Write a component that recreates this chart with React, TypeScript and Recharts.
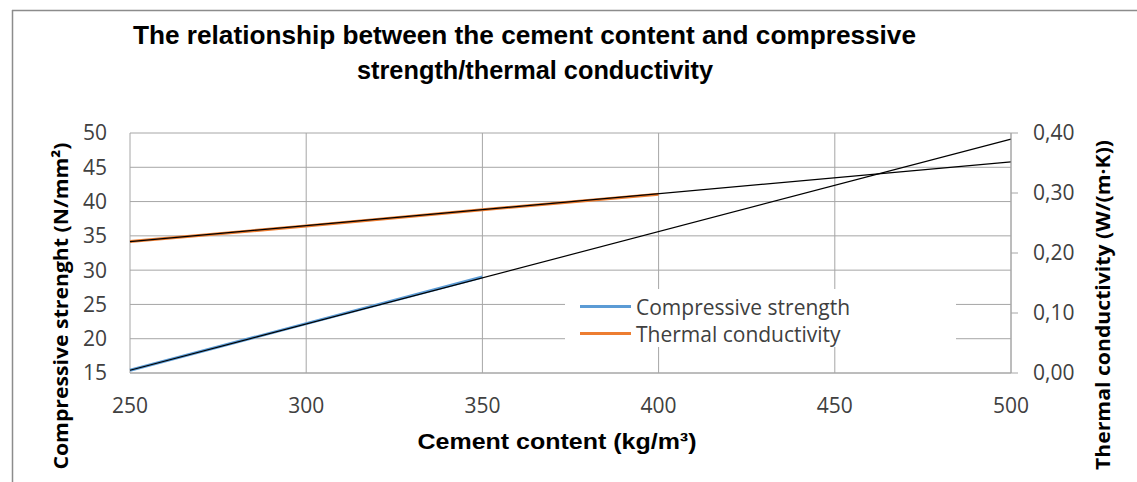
import React from "react";
import {
  LineChart,
  Line,
  XAxis,
  YAxis,
  CartesianGrid,
  Legend,
} from "recharts";

// cement content (kg/m3)
const cementContent = [250, 300, 350, 400, 450, 500];
// measured series
const compressiveStrength = [15.4, 22.2, 29.0, null, null, null];
const thermalConductivity = [0.219, 0.245, 0.272, 0.298, null, null];
// linear trend lines (endpoints)
const strengthTrend = [15.4, null, null, null, null, 49.1];
const thermalTrend = [0.219, null, null, null, null, 0.352];

const leftTicks = [15, 20, 25, 30, 35, 40, 45, 50];
const rightTicks = [0, 0.1, 0.2, 0.3, 0.4];

const legendItems = [
  { key: "strength", name: "Compressive strength", color: "#5b9bd5" },
  { key: "thermal", name: "Thermal conductivity", color: "#ed7d31" },
];

const data = cementContent.map((x, i) => ({
  x,
  strength: compressiveStrength[i],
  thermal: thermalConductivity[i],
  strengthTrend: strengthTrend[i],
  thermalTrend: thermalTrend[i],
}));

const W = 1137;
const H = 482;
const TICK_FONT = "'Open Sans', 'DejaVu Sans', sans-serif";
const TITLE_FONT = "'Liberation Sans Narrow', 'Liberation Sans', sans-serif";
const GRID = "#a6a6a6";

const renderLegend = () => (
  <div
    style={{
      background: "#fff",
      width: 391,
      height: 58,
      paddingTop: 4,
      boxSizing: "border-box",
    }}
  >
    {legendItems.map((it) => (
      <div
        key={it.key}
        style={{
          display: "flex",
          alignItems: "center",
          height: 27,
          fontFamily: TICK_FONT,
          fontSize: 21,
          color: "#404040",
        }}
      >
        <span
          style={{
            display: "inline-block",
            width: 51,
            height: 3,
            background: it.color,
            marginLeft: 15,
            marginRight: 5,
          }}
        />
        {it.name}
      </div>
    ))}
  </div>
);

export default function App() {
  return (
    <div style={{ position: "absolute", left: 0, top: 0, width: W, height: H, background: "#fff" }}>
      <LineChart
        width={W}
        height={H}
        data={data}
        margin={{ top: 133, right: 0, bottom: 0, left: 0 }}
      >
        <CartesianGrid stroke={GRID} strokeWidth={1} yAxisId="left" />
        <XAxis
          dataKey="x"
          type="number"
          domain={[250, 500]}
          ticks={cementContent}
          interval={0}
          stroke={GRID}
          tickLine={false}
          tickSize={0}
          tickMargin={25}
          height={109}
          tick={{ fontSize: 21, fill: "#404040", fontFamily: TICK_FONT }}
          label={{
            content: () => (
              <text
                x={557}
                y={449}
                textAnchor="middle"
                fontFamily={TITLE_FONT}
                fontSize={22}
                fontWeight={700}
                fill="#000"
                textLength={279}
                lengthAdjust="spacingAndGlyphs"
              >
                Cement content (kg/m³)
              </text>
            ),
          }}
        />
        <YAxis
          yAxisId="left"
          domain={[15, 50]}
          ticks={leftTicks}
          interval={0}
          width={130}
          axisLine={false}
          tickLine={false}
          tickSize={0}
          tickMargin={23}
          tick={{ fontSize: 21, fill: "#404040", fontFamily: TICK_FONT }}
          label={{
            content: () => (
              <text
                x={68}
                y={306}
                transform="rotate(-90 68 306)"
                textAnchor="middle"
                fontFamily={TICK_FONT}
                fontSize={20}
                fontWeight={700}
                fill="#000"
                textLength={327}
                lengthAdjust="spacingAndGlyphs"
              >
                Compressive strenght (N/mm²)
              </text>
            ),
          }}
        />
        <YAxis
          yAxisId="right"
          orientation="right"
          domain={[0, 0.4]}
          ticks={rightTicks}
          interval={0}
          width={126}
          stroke={GRID}
          tickSize={7}
          tickMargin={15}
          tickFormatter={(v: number) => v.toFixed(2).replace(".", ",")}
          tick={{ fontSize: 21, fill: "#404040", fontFamily: TICK_FONT, textAnchor: "start" }}
          label={{
            content: () => (
              <text
                x={1110}
                y={305}
                transform="rotate(-90 1110 305)"
                textAnchor="middle"
                fontFamily={TICK_FONT}
                fontSize={20}
                fontWeight={700}
                fill="#000"
                textLength={330}
                lengthAdjust="spacingAndGlyphs"
              >
                Thermal conductivity (W/(m·K))
              </text>
            ),
          }}
        />
        <Line
          yAxisId="left"
          dataKey="strength"
          name="Compressive strength"
          stroke="#5b9bd5"
          strokeWidth={3}
          dot={false}
          type="linear"
          isAnimationActive={false}
        />
        <Line
          yAxisId="right"
          dataKey="thermal"
          name="Thermal conductivity"
          stroke="#ed7d31"
          strokeWidth={3}
          dot={false}
          type="linear"
          isAnimationActive={false}
        />
        <Line
          yAxisId="left"
          dataKey="strengthTrend"
          stroke="#000"
          strokeWidth={1.2}
          dot={false}
          connectNulls
          type="linear"
          legendType="none"
          isAnimationActive={false}
        />
        <Line
          yAxisId="right"
          dataKey="thermalTrend"
          stroke="#000"
          strokeWidth={1.2}
          dot={false}
          connectNulls
          type="linear"
          legendType="none"
          isAnimationActive={false}
        />
        <Legend
          layout="vertical"
          align="center"
          verticalAlign="middle"
          content={renderLegend}
          wrapperStyle={{ left: 565, top: 289, width: 391, height: 58 }}
        />
      </LineChart>
      <svg
        width={W}
        height={H}
        style={{ position: "absolute", left: 0, top: 0, pointerEvents: "none" }}
      >
        <line x1={12} y1={10.5} x2={W} y2={10.5} stroke="#8c8c8c" strokeWidth={1.5} />
        <line x1={12.5} y1={10} x2={12.5} y2={H} stroke="#8c8c8c" strokeWidth={1.5} />
        <text
          x={524.5}
          y={44}
          textAnchor="middle"
          fontFamily={TITLE_FONT}
          fontSize={26}
          fontWeight={700}
          fill="#000"
          textLength={783}
          lengthAdjust="spacingAndGlyphs"
        >
          The relationship between the cement content and compressive
        </text>
        <text
          x={535}
          y={79}
          textAnchor="middle"
          fontFamily={TITLE_FONT}
          fontSize={26}
          fontWeight={700}
          fill="#000"
          textLength={356}
          lengthAdjust="spacingAndGlyphs"
        >
          strength/thermal conductivity
        </text>
      </svg>
    </div>
  );
}
